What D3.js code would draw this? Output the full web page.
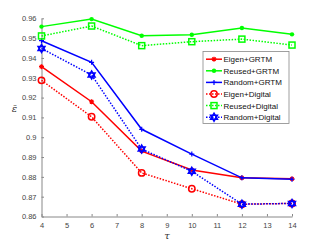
<!DOCTYPE html>
<html><head><meta charset="utf-8">
<script src="https://cdn.jsdelivr.net/npm/d3@7"></script>
<style>body{margin:0;background:#fff}svg{display:block}</style>
</head><body><svg id="c" width="324" height="244"></svg>
<script>
const taus = [4, 6, 8, 10, 12, 14];
const eigenGRTM   = [0.9356, 0.9179, 0.8930, 0.8835, 0.8795, 0.8790];
const reusedGRTM  = [0.9558, 0.9596, 0.9512, 0.9517, 0.9551, 0.9519];
const randomGRTM  = [0.9487, 0.9378, 0.9040, 0.8915, 0.8795, 0.8788];
const eigenDigital  = [0.9287, 0.9103, 0.8820, 0.8740, 0.8662, 0.8666];
const reusedDigital = [0.9511, 0.9561, 0.9462, 0.9482, 0.9495, 0.9465];
const randomDigital = [0.9448, 0.9314, 0.8940, 0.8828, 0.8662, 0.8666];
const xTicks = [4,5,6,7,8,9,10,11,12,13,14];
const yTicks = [0.86,0.87,0.88,0.89,0.9,0.91,0.92,0.93,0.94,0.95,0.96];
const yTickLabels = ["0.86","0.87","0.88","0.89","0.9","0.91","0.92","0.93","0.94","0.95","0.96"];

const series = [
  {name:"Eigen+GRTM", vals:eigenGRTM, color:"#ff0000", dash:null, marker:"star"},
  {name:"Reused+GRTM", vals:reusedGRTM, color:"#00ff00", dash:null, marker:"dot"},
  {name:"Random+GRTM", vals:randomGRTM, color:"#0000ff", dash:null, marker:"plus"},
  {name:"Eigen+Digital", vals:eigenDigital, color:"#ff0000", dash:"1.5,1.5", marker:"circle"},
  {name:"Reused+Digital", vals:reusedDigital, color:"#00ff00", dash:"1.5,1.5", marker:"square"},
  {name:"Random+Digital", vals:randomDigital, color:"#0000ff", dash:"1.5,1.5", marker:"hexagram"}
];

const svg = d3.select("#c");
const x = d3.scaleLinear().domain([4,14]).range([41.5,292]);
const y = d3.scaleLinear().domain([0.86,0.96]).range([216.5,18.3]);
const axisColor = "#888";

const ya = svg.append("g").attr("transform","translate(41.5,0)")
  .call(d3.axisLeft(y).tickValues(yTicks).tickFormat((d,i)=>yTickLabels[i]).tickSizeInner(-2.5).tickSizeOuter(0).tickPadding(5));
const xa = svg.append("g").attr("transform","translate(0,216.5)")
  .call(d3.axisBottom(x).tickValues(xTicks).tickFormat(d3.format("d")).tickSizeInner(-2.5).tickSizeOuter(0).tickPadding(6));
[ya,xa].forEach(a=>{
  a.select(".domain").attr("stroke",axisColor).attr("stroke-width",1);
  a.selectAll(".tick line").attr("stroke",axisColor);
  a.selectAll("text").attr("fill","#444").attr("font-family","Liberation Sans, Arial, sans-serif").attr("font-size","7.5px");
});

svg.append("text").attr("x",167).attr("y",239).attr("text-anchor","middle")
  .attr("font-family","DejaVu Serif, serif").attr("font-style","italic").attr("font-size","10px").attr("fill","#333").text("τ");
svg.append("text").attr("x",14.5).attr("y",112).attr("text-anchor","middle")
  .attr("font-family","DejaVu Serif, serif").attr("font-style","italic").attr("font-size","10px").attr("fill","#333").text("ε\u0304");

function drawMarker(g, type, color, cx, cy){
  if(type==="dot"){
    g.append("circle").attr("cx",cx).attr("cy",cy).attr("r",2.2).attr("fill",color);
  } else if(type==="star" || type==="plus"){
    const s=2.5;
    g.append("path").attr("d",`M${cx-s},${cy}H${cx+s}M${cx},${cy-s}V${cy+s}`+(type==="star"?`M${cx-s*0.7},${cy-s*0.7}L${cx+s*0.7},${cy+s*0.7}M${cx-s*0.7},${cy+s*0.7}L${cx+s*0.7},${cy-s*0.7}`:""))
      .attr("stroke",color).attr("stroke-width",1.2).attr("fill","none");
  } else if(type==="circle"){
    g.append("circle").attr("cx",cx).attr("cy",cy).attr("r",3.2).attr("fill","none").attr("stroke",color).attr("stroke-width",1.5);
  } else if(type==="square"){
    g.append("rect").attr("x",cx-3).attr("y",cy-3).attr("width",6).attr("height",6).attr("fill","none").attr("stroke",color).attr("stroke-width",1.5);
  } else if(type==="hexagram"){
    const r=4, pts1=[], pts2=[];
    for(let k=0;k<3;k++){
      const a1=-Math.PI/2+k*2*Math.PI/3, a2=Math.PI/2+k*2*Math.PI/3;
      pts1.push([cx+r*Math.cos(a1), cy+r*Math.sin(a1)]);
      pts2.push([cx+r*Math.cos(a2), cy+r*Math.sin(a2)]);
    }
    [pts1,pts2].forEach(p=>g.append("path").attr("d","M"+p.map(q=>q.join(",")).join("L")+"Z")
      .attr("fill","none").attr("stroke",color).attr("stroke-width",1.5));
  }
}

const line = d3.line().x((d,i)=>x(taus[i])).y(d=>y(d));
series.forEach(s=>{
  const g = svg.append("g");
  g.append("path").attr("d",line(s.vals)).attr("fill","none").attr("stroke",s.color)
    .attr("stroke-width",1.5).attr("stroke-dasharray",s.dash);
  s.vals.forEach((v,i)=>drawMarker(g,s.marker,s.color,x(taus[i]),y(v)));
});

const lg = svg.append("g");
lg.append("rect").attr("x",203).attr("y",51.5).attr("width",86).attr("height",72)
  .attr("fill","#fff").attr("stroke","#888").attr("stroke-width",0.8);
series.forEach((s,i)=>{
  const yy = 59.2 + i*11.6;
  lg.append("line").attr("x1",206).attr("x2",222).attr("y1",yy).attr("y2",yy)
    .attr("stroke",s.color).attr("stroke-width",1.5).attr("stroke-dasharray",s.dash);
  drawMarker(lg,s.marker,s.color,214,yy);
  lg.append("text").attr("x",223.5).attr("y",yy+3).attr("font-family","Liberation Sans, Arial, sans-serif")
    .attr("font-size","8px").attr("fill","#111").text(s.name);
});
</script></body></html>
